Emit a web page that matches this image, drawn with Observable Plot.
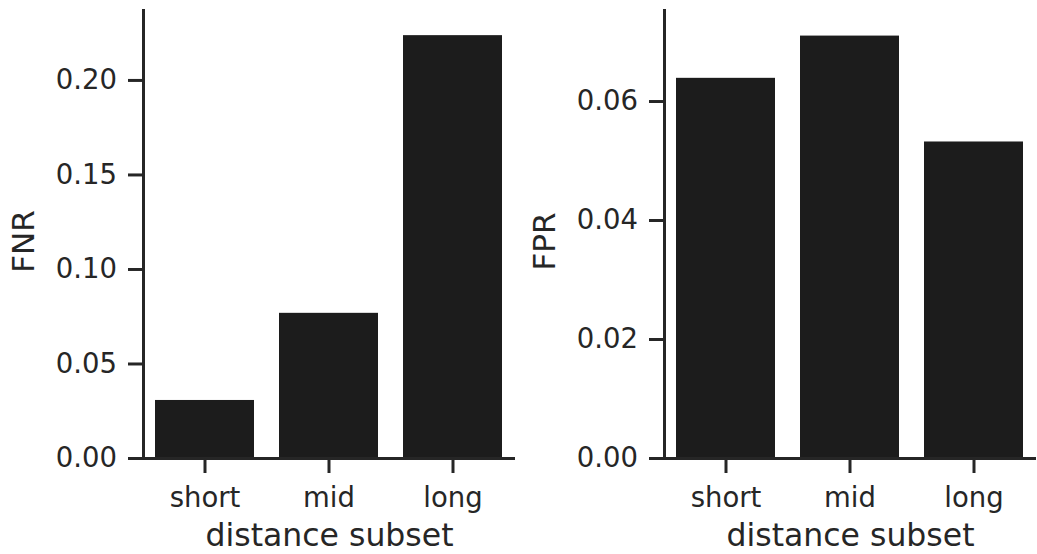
<!DOCTYPE html>
<html>
<head>
<meta charset="utf-8">
<script src="https://cdn.jsdelivr.net/npm/d3@7"></script>
<script src="https://cdn.jsdelivr.net/npm/@observablehq/plot@0.6"></script>
<style>
  html, body { margin: 0; padding: 0; background: #ffffff; }
  #chart { display: flex; flex-direction: row; width: 1037px; height: 554px; }
</style>
</head>
<body>
<div id="chart"></div>
<script>
// Error rates per distance subset
const subsets = ["short", "mid", "long"];
const fnr = [0.0307, 0.0768, 0.2237];
const fpr = [0.0639, 0.0710, 0.0532];

// Tick values for each panel
const fnrTicks = [0, 0.05, 0.10, 0.15, 0.20];
const fprTicks = [0, 0.02, 0.04, 0.06];

const ink = "#262626";
const barFill = "#1c1c1c";

function panel({values, ticks, yMax, label, width, marginLeft, marginRight}) {
  const rows = subsets.map((s, i) => ({subset: s, value: values[i]}));
  return Plot.plot({
    width,
    height: 554,
    marginTop: 10,
    marginBottom: 96,
    marginLeft,
    marginRight,
    style: {
      fontFamily: "DejaVu Sans",
      fontSize: "27.5px",
      color: ink,
      background: "#ffffff",
      overflow: "visible"
    },
    x: {domain: subsets, type: "band", paddingInner: 0.2, paddingOuter: 0.1},
    y: {domain: [0, yMax]},
    marks: [
      Plot.barY(rows, {x: "subset", y: "value", fill: barFill}),
      Plot.axisX({tickSize: 15, tickPadding: 14, fontSize: 27.5, strokeWidth: 3, label: null}),
      Plot.axisY({ticks, tickSize: 15, tickPadding: 11.5, tickFormat: d3.format(".2f"),
                  fontSize: 27.5, strokeWidth: 3, label: null}),
      Plot.ruleY([0], {stroke: ink, strokeWidth: 3}),
      Plot.frame({anchor: "left", stroke: ink, strokeWidth: 3}),
      // vertical axis title, centred on the frame
      Plot.text([label], {text: d => d, frameAnchor: "left", textAnchor: "middle",
                          rotate: -90, dx: -119.5, dy: 7, fontSize: 31, fill: ink}),
      // horizontal axis title
      Plot.text(["distance subset"], {text: d => d, frameAnchor: "bottom",
                                      dy: 87, fontSize: 31.5, fill: ink})
    ]
  });
}

const chart = document.getElementById("chart");
chart.append(panel({values: fnr, ticks: fnrTicks, yMax: 0.2370, label: "FNR",
                    width: 520, marginLeft: 143, marginRight: 5}));
chart.append(panel({values: fpr, ticks: fprTicks, yMax: 0.0753, label: "FPR",
                    width: 517, marginLeft: 144, marginRight: 1}));
</script>
</body>
</html>
